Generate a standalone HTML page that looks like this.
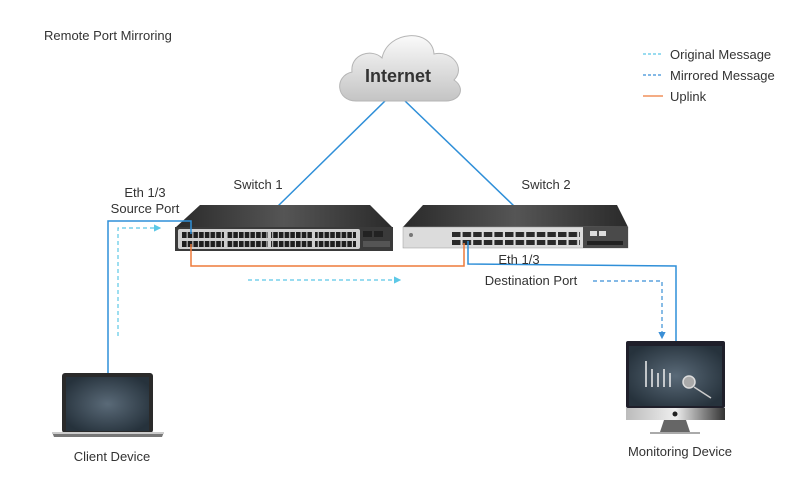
<!DOCTYPE html>
<html><head><meta charset="utf-8"><style>
html,body{margin:0;padding:0;background:#fff;}
svg{display:block;font-family:"Liberation Sans",sans-serif;}
</style></head><body>
<svg width="800" height="490" viewBox="0 0 800 490" xmlns="http://www.w3.org/2000/svg">
<defs>
<linearGradient id="cl" x1="0" y1="0" x2="0" y2="1"><stop offset="0" stop-color="#fafafa"/><stop offset="1" stop-color="#c4c4c4"/></linearGradient>
<linearGradient id="top" x1="0" y1="0" x2="1" y2="0"><stop offset="0" stop-color="#2a2a2a"/><stop offset="0.5" stop-color="#555"/><stop offset="1" stop-color="#2a2a2a"/></linearGradient>
<radialGradient id="scr" cx="0.5" cy="0.5" r="0.6"><stop offset="0" stop-color="#5a6a78"/><stop offset="1" stop-color="#26323c"/></radialGradient>
<linearGradient id="chin" x1="0" y1="0" x2="1" y2="0"><stop offset="0" stop-color="#bbb"/><stop offset="0.5" stop-color="#eee"/><stop offset="1" stop-color="#333"/></linearGradient>
<pattern id="p1" x="182" y="0" width="5.7" height="20" patternUnits="userSpaceOnUse"><rect x="0" y="0" width="4.6" height="20" fill="#1e1e1e"/></pattern>
<pattern id="p2" x="452" y="0" width="10.6" height="20" patternUnits="userSpaceOnUse"><rect x="0" y="0" width="8.5" height="20" fill="#2a2a2a"/></pattern>
<marker id="ac" markerWidth="6" markerHeight="6" refX="5" refY="3" orient="auto"><path d="M0,0 L6,3 L0,6z" fill="#5cc8e6"/></marker>
<marker id="ab" markerWidth="6" markerHeight="6" refX="5" refY="3" orient="auto"><path d="M0,0 L6,3 L0,6z" fill="#3a8fd6"/></marker>
</defs>

<text x="44" y="40" font-size="13" fill="#333">Remote Port Mirroring</text>

<!-- legend -->
<line x1="643" y1="54" x2="663" y2="54" stroke="#5cc8e6" stroke-width="1.2" stroke-dasharray="3,2"/>
<line x1="643" y1="75" x2="663" y2="75" stroke="#3a8fd6" stroke-width="1.2" stroke-dasharray="3,2"/>
<line x1="643" y1="96" x2="663" y2="96" stroke="#ee7a3a" stroke-width="1.2"/>
<text x="670" y="59" font-size="13" fill="#333">Original Message</text>
<text x="670" y="80" font-size="13" fill="#333">Mirrored Message</text>
<text x="670" y="101" font-size="13" fill="#333">Uplink</text>

<!-- internet links -->
<line x1="386" y1="100" x2="278" y2="206" stroke="#2f8fd8" stroke-width="1.5"/>
<line x1="404" y1="100" x2="514" y2="206" stroke="#2f8fd8" stroke-width="1.5"/>

<!-- cloud -->
<path d="M356,101 C336,101 334,76 352,72 C350,54 372,48 382,58 C388,30 432,28 434,54 C452,50 466,68 454,80 C466,88 460,101 446,101 Z" fill="url(#cl)" stroke="#b5b5b5" stroke-width="1"/>
<text x="398" y="82" font-size="18" font-weight="bold" fill="#333" text-anchor="middle">Internet</text>

<!-- switch 1 -->
<polygon points="200,205 370,205 393,228 175,228" fill="url(#top)"/>
<rect x="175" y="227" width="218" height="24" fill="#3a3a3a"/>
<rect x="178" y="229" width="182" height="20" rx="2" fill="#cfcfcf"/>
<rect x="182" y="232" width="174" height="6" fill="url(#p1)"/>
<rect x="182" y="241" width="174" height="6" fill="url(#p1)"/>
<g fill="#cfcfcf">
<rect x="224" y="230" width="3" height="18"/><rect x="268" y="230" width="3" height="18"/><rect x="312" y="230" width="3" height="18"/>
</g>
<rect x="363" y="231" width="9" height="6" fill="#222"/><rect x="374" y="231" width="9" height="6" fill="#222"/>
<rect x="363" y="241" width="27" height="6" fill="#555"/>

<!-- switch 2 -->
<polygon points="423,205 617,205 628,227 403,227" fill="url(#top)"/>
<rect x="403" y="227" width="225" height="21" fill="#dcdcdc" stroke="#999" stroke-width="0.5"/>
<rect x="583" y="227" width="45" height="21" fill="#4a4a4a"/>
<rect x="452" y="232" width="128" height="5" fill="url(#p2)"/>
<rect x="452" y="240" width="128" height="5" fill="url(#p2)"/>
<rect x="587" y="241" width="36" height="4" fill="#222"/>
<rect x="590" y="231" width="7" height="5" fill="#ddd"/><rect x="599" y="231" width="7" height="5" fill="#ddd"/>
<circle cx="411" cy="235" r="2" fill="#777"/>

<!-- uplink orange -->
<polyline points="191,244 191,266 464,266 464,243" fill="none" stroke="#ee7a3a" stroke-width="1.5"/>

<!-- blue source -->
<polyline points="108,378 108,221 191,221 191,234" fill="none" stroke="#2f8fd8" stroke-width="1.5"/>
<!-- blue dest -->
<polyline points="468,241 468,264 676,266 676,345" fill="none" stroke="#2f8fd8" stroke-width="1.5"/>

<!-- dashed original -->
<polyline points="118,336 118,228 160,228" fill="none" stroke="#5cc8e6" stroke-width="1.2" stroke-dasharray="4,3" marker-end="url(#ac)"/>
<line x1="248" y1="280" x2="400" y2="280" stroke="#5cc8e6" stroke-width="1.2" stroke-dasharray="4,3" marker-end="url(#ac)"/>
<!-- dashed mirrored -->
<polyline points="593,281 662,281 662,338" fill="none" stroke="#3a8fd6" stroke-width="1.2" stroke-dasharray="4,3" marker-end="url(#ab)"/>

<!-- labels -->
<g font-size="13" fill="#333" text-anchor="middle">
<text x="258" y="189">Switch 1</text>
<text x="546" y="189">Switch 2</text>
<text x="145" y="197">Eth 1/3</text>
<text x="145" y="213">Source Port</text>
<text x="519" y="264">Eth 1/3</text>
<text x="531" y="285">Destination Port</text>
<text x="112" y="461">Client Device</text>
<text x="680" y="456">Monitoring Device</text>
</g>

<!-- laptop -->
<rect x="62" y="373" width="91" height="60" rx="3" fill="#2a2a2a"/>
<rect x="66" y="377" width="83" height="54" fill="url(#scr)"/>
<path d="M52,432 L164,432 L162,437 L54,437 Z" fill="#777"/>
<rect x="52" y="432" width="112" height="2" fill="#ccc"/>

<!-- monitor -->
<rect x="626" y="341" width="99" height="67" rx="2" fill="#1f1f2a"/>
<rect x="629" y="346" width="93" height="60" fill="url(#scr)"/>
<rect x="626" y="408" width="99" height="12" fill="url(#chin)"/>
<circle cx="675" cy="414" r="2.5" fill="#222"/>
<path d="M664,420 L686,420 L690,432 L660,432 Z" fill="#666"/>
<rect x="650" y="432" width="50" height="2" fill="#aaa"/>
<g stroke="#eee" stroke-width="1.5">
<line x1="646" y1="361" x2="646" y2="387"/><line x1="652" y1="369" x2="652" y2="387"/><line x1="658" y1="373" x2="658" y2="387"/><line x1="664" y1="369" x2="664" y2="387"/><line x1="670" y1="373" x2="670" y2="387"/>
</g>
<circle cx="689" cy="382" r="6" fill="#aaa" stroke="#ddd" stroke-width="1.5"/>
<line x1="694" y1="387" x2="711" y2="398" stroke="#ccc" stroke-width="1.5"/>
</svg>
</body></html>
